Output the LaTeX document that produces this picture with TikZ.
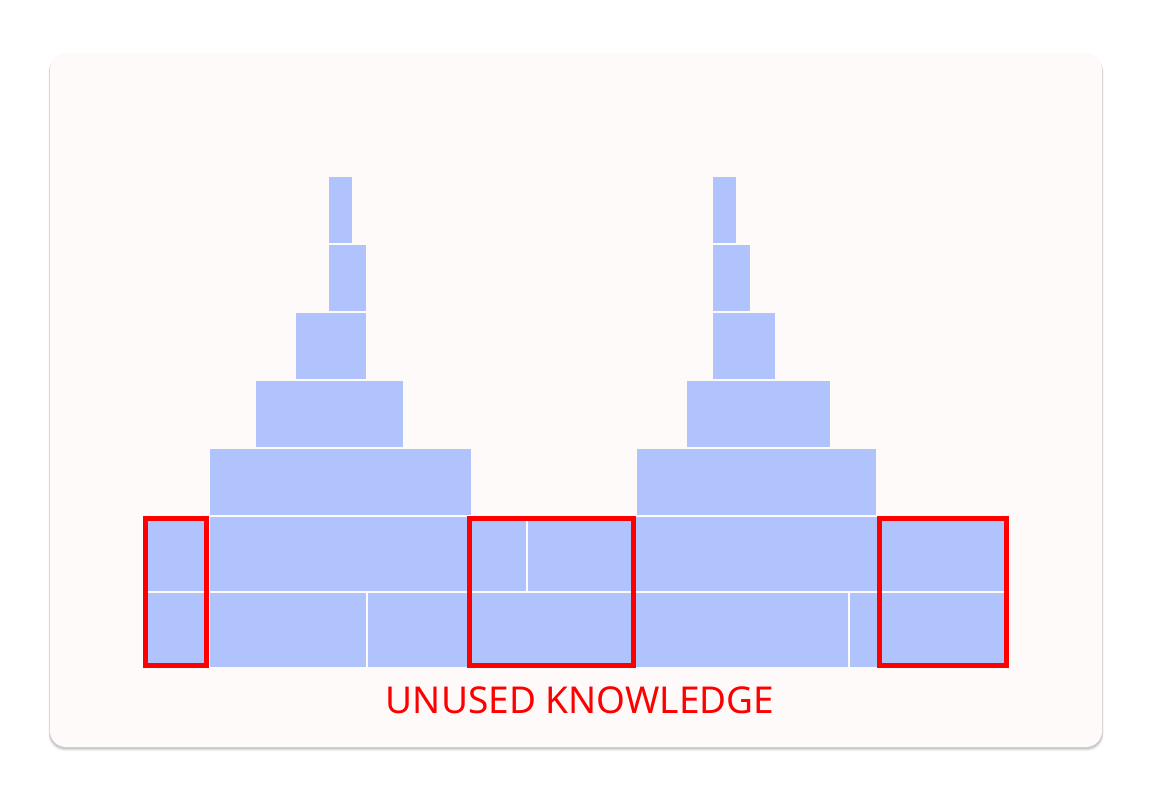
\documentclass[tikz,border=0pt]{standalone}
\usepackage{fontspec}
\setmainfont{Noto Sans}
\usepackage{tikz}
\definecolor{cardbg}{HTML}{FFFAFA}
\definecolor{blockblue}{HTML}{B1C3FC}
\tikzset{
    block/.style={fill=blockblue}, % 知识块的样式
    unused/.style={draw=red, line width=4.6pt}, % 未使用部分的红框
    card/.style={fill=cardbg, rounded corners=16pt} % 背景卡片
}
\begin{document}
\begin{tikzpicture}[x=1pt, y=-1pt]
            \useasboundingbox (0,0) rectangle (1152,800);
            \def\lowa{517} \def\lowb{591} \def\lowc{593} \def\lowd{667}

            % 卡片及阴影
            \foreach \s/\o in {3/0.05, 2/0.07, 1/0.10} {
                \fill[black, opacity=\o, rounded corners=16pt] (50-\s*0.5, 55+\s*0.2) rectangle (1102+\s*0.5, 748+\s);}
            \fill[card] (50,53) rectangle (1102,747);

            % 上面五层 (左右两座塔)
            \foreach \y/\la/\lb/\ra/\rb in {177/329/352/713/736, 245/329/366/713/750, 313/296/366/713/775, 381/256/403/687/830, 449/210/471/637/876} {
                \fill[block] (\la,\y) rectangle (\lb,\y+66);
                \fill[block] (\ra,\y) rectangle (\rb,\y+66);}

            % 底下两层
            \foreach \xa/\xb in {145/208, 210/469, 470/526, 528/634, 636/878, 879/1006} {\fill[block] (\xa,\lowa) rectangle (\xb,\lowb);}
            \foreach \xa/\xb in {145/208, 210/366, 368/469, 470/634, 636/848, 850/878, 879/1006} {\fill[block] (\xa,\lowc) rectangle (\xb,\lowd);}

            % 红框
            \foreach \xa/\xb in {145.7/206.3, 469.7/633.3, 879.3/1006.7} {\draw[unused] (\xa,518.3) rectangle (\xb,665.3);}

            \node[red, anchor=base, inner sep=0pt, font=\fontsize{37}{44}\selectfont] (unusedlabel) at (580,713) {UNUSED KNOWLEDGE};
        \end{tikzpicture}
\end{document}
